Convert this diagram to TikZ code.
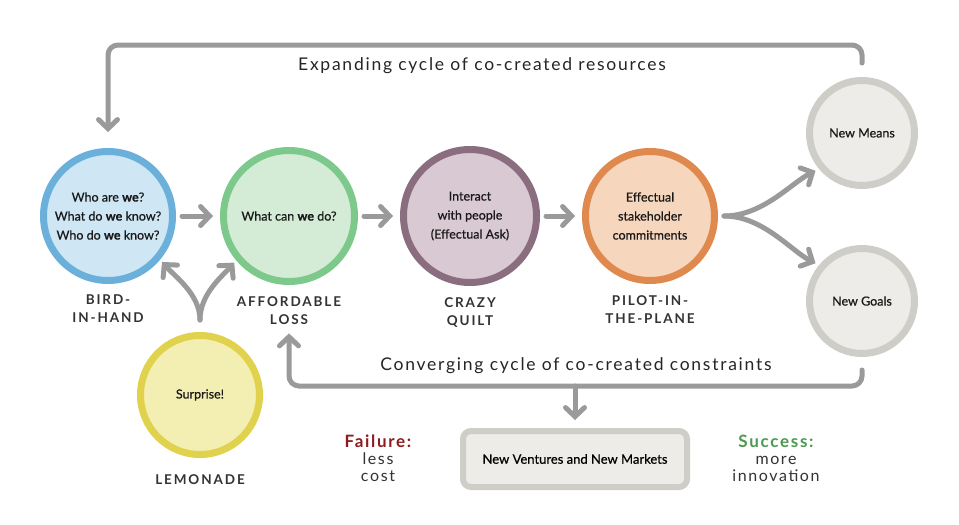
\documentclass[tikz,border=0pt]{standalone}
\usepackage{fontspec}
\setmainfont{Lato}
\newfontfamily\heavyfont[FakeBold=0.6]{Lato}
\newfontfamily\spacedfont[LetterSpace=14]{Lato}
\newfontfamily\widefont[LetterSpace=10]{Lato}
\usetikzlibrary{arrows.meta,positioning}

\definecolor{birdLine}{HTML}{6AB0DB}
\definecolor{birdFill}{HTML}{CFE7F4}
\definecolor{lossLine}{HTML}{7DC98B}
\definecolor{lossFill}{HTML}{D4ECD5}
\definecolor{quiltLine}{HTML}{8A6E80}
\definecolor{quiltFill}{HTML}{D9C9D3}
\definecolor{pilotLine}{HTML}{E0894E}
\definecolor{pilotFill}{HTML}{F6D6BC}
\definecolor{newLine}{HTML}{CFCDC7}
\definecolor{newFill}{HTML}{EDECE8}
\definecolor{lemonLine}{HTML}{E0D24C}
\definecolor{lemonFill}{HTML}{F3EEB2}
\definecolor{arrowGrey}{HTML}{9A9A9A}
\definecolor{failRed}{HTML}{8E1B1F}
\definecolor{succGreen}{HTML}{4C9A50}

\tikzset{
  principle/.style={circle, line width=7pt, inner sep=0pt, minimum size=129pt,
    align=center, font=\heavyfont\fontsize{12.5}{19}\selectfont, text=black!90},
  newnode/.style={principle, draw=newLine, fill=newFill, minimum size=105pt},
  lbl/.style={font=\spacedfont\bfseries\fontsize{13.5}{18}\selectfont, align=center,
    inner sep=0pt, text=black!80},
  flow/.style={draw=arrowGrey, line width=5pt, line cap=round,
    -{Straight Barb[length=9pt,width=19pt,line cap=round]}},
  cyc/.style={flow, rounded corners=10pt},
  caption/.style={font=\widefont\fontsize{17.5}{20}\selectfont, text=black!85},
  verdict/.style={font=\widefont\fontsize{16}{17}\selectfont, align=center, text=black!80}
}

\begin{document}
\begin{tikzpicture}[x=1pt,y=-1pt]
  \useasboundingbox[fill=white] (0,0) rectangle (959,525);

  % principles
  \node[principle, draw=birdLine, fill=birdFill] (bird) at (108,216)
    {Who are \textbf{we}?\\What do \textbf{we} know?\\Who do \textbf{we} know?};
  \node[principle, draw=lossLine, fill=lossFill, minimum size=131pt] (loss) at (289,216)
    {What can \textbf{we} do?};
  \node[principle, draw=quiltLine, fill=quiltFill, minimum size=133pt] (quilt) at (470,216)
    {Interact\\with people\\(Effectual Ask)};
  \node[principle, draw=pilotLine, fill=pilotFill] (pilot) at (650,216)
    {Effectual\\stakeholder\\commitments};
  \node[principle, draw=lemonLine, fill=lemonFill, minimum size=119pt] (lemon) at (200,395)
    {Surprise!};

  % new means and goals
  \node[newnode] (means) at (862,133) {New Means};
  \node[newnode] (goals) at (862,301) {New Goals};

  % labels
  \node[lbl, below=11pt of bird] (birdLbl) {BIRD-\\IN-HAND};
  \node[lbl, below=11pt of loss] (lossLbl) {AFFORDABLE\\LOSS};
  \node[lbl, below=11pt of quilt] (quiltLbl) {CRAZY\\QUILT};
  \node[lbl, below=11pt of pilot] (pilotLbl) {PILOT-IN-\\THE-PLANE};
  \node[lbl, below=16pt of lemon] (lemonLbl) {LEMONADE};

  % straight arrows
  \draw[flow, shorten <=6pt, shorten >=7pt] (bird) -- (loss);
  \draw[flow, shorten <=6pt, shorten >=7pt] (loss) -- (quilt);
  \draw[flow, shorten <=6pt, shorten >=7pt] (quilt) -- (pilot);

  % fork to new means and goals
  \draw[flow, shorten <=6pt, shorten >=4pt] (pilot.east) .. controls +(45,0) and +(-28,14) .. (means.-140);
  \draw[flow, shorten <=6pt, shorten >=4pt] (pilot.east) .. controls +(45,0) and +(-28,-14) .. (goals.140);

  % lemonade branches
  \draw[flow, shorten <=12pt, shorten >=3pt] (lemon.north) .. controls +(0,-38) and +(14,16) .. (bird.-40);
  \draw[flow, shorten <=12pt, shorten >=3pt] (lemon.north) .. controls +(0,-38) and +(-14,16) .. (loss.220);

  % expanding cycle
  \draw[cyc, shorten <=14pt, shorten >=16pt] (means.north) -- (means.north |- 0,45)
    -- (bird.north |- 0,45) -- (bird.north);
  \node[caption] (expand) at (482,66) {Expanding cycle of co-created resources};

  % converging cycle
  \draw[cyc, shorten <=13pt, shorten >=9pt] (goals.south) -- (goals.south |- 0,386)
    -- (lossLbl.south |- 0,386) -- (lossLbl.south);
  \node[caption] (converge) at (576,366) {Converging cycle of co-created constraints};

  % outcome
  \node[draw=newLine, fill=newFill, line width=6pt, rounded corners=8pt,
    minimum width=224pt, minimum height=56pt, font=\heavyfont\fontsize{13}{14}\selectfont]
    (ventures) at (575,459) {New Ventures and New Markets};
  \coordinate (conv) at (ventures.north |- 0,386);
  \draw[flow, shorten >=8pt] (conv) -- (ventures.north);

  % failure and success
  \node[verdict] (fail) at (378,458)
    {{\color{failRed}\bfseries\fontsize{17}{18}\selectfont Failure:}\\less\\cost};
  \node[verdict] (succ) at (776,458)
    {{\color{succGreen}\bfseries\fontsize{17}{18}\selectfont Success:}\\more\\innovation};
\end{tikzpicture}
\end{document}
